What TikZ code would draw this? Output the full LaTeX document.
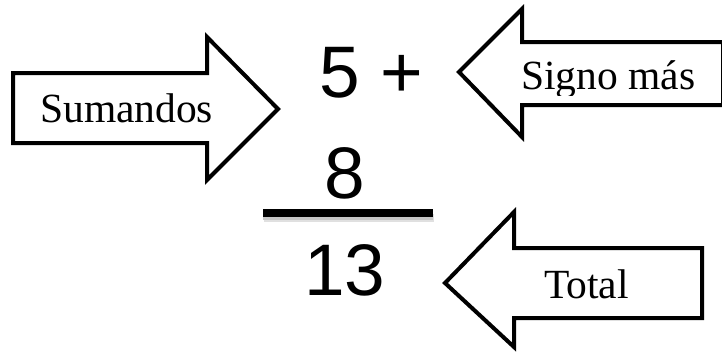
\documentclass[tikz,border=0pt]{standalone}
\usepackage{fontspec}
\setmainfont{Liberation Serif}
\newfontfamily\numfont{Liberation Sans}
\begin{document}
\begin{tikzpicture}[x=1pt,y=-1pt,
  blockarrow/.style={draw=black,fill=white,line width=4pt,line join=miter},
  lbl/.style={anchor=base west,inner sep=0pt,font=\fontsize{41.5}{50}\selectfont},
  num/.style={inner sep=0pt,font=\numfont\fontsize{73}{80}\selectfont}]
\useasboundingbox (0,0) rectangle (722,356);
% Sumandos arrow
\draw[blockarrow] (13,73) -- (207,73) -- (207,37) -- (278,109) -- (207,180) -- (207,143) -- (13,143) -- cycle;
\node[lbl] (sumandos) at (40,122) {Sumandos};
% Signo mas arrow
\draw[blockarrow] (723,42) -- (522,42) -- (522,9) -- (459,72) -- (522,137) -- (522,105) -- (723,105) -- cycle;
\begin{scope}
\clip (520,44) rectangle (722,95);
\node[lbl] (signo) at (521,89) {Signo más};
\end{scope}
% Total arrow
\draw[blockarrow] (702,248) -- (514,248) -- (514,212) -- (445,283) -- (514,347) -- (514,318) -- (702,318) -- cycle;
\node[lbl] (total) at (544,298) {Total};
% numbers
\node[num,anchor=base west] (cinco) at (319,97) {5 +};
\node[num,anchor=base] (ocho) at (345,198) {8};
\node[num,anchor=base] (trece) at (345,295) {13};
% sum line with soft shadow
\coordinate (la) at (263,213);
\coordinate (lb) at (433,213);
\draw[line width=8pt,black!12] ([shift={(1,5)}]la) -- ([shift={(1,5)}]lb);
\draw[line width=8pt,black!22] ([shift={(0,3)}]la) -- ([shift={(0,3)}]lb);
\draw[line width=8pt,black] (la) -- (lb);
\end{tikzpicture}
\end{document}
